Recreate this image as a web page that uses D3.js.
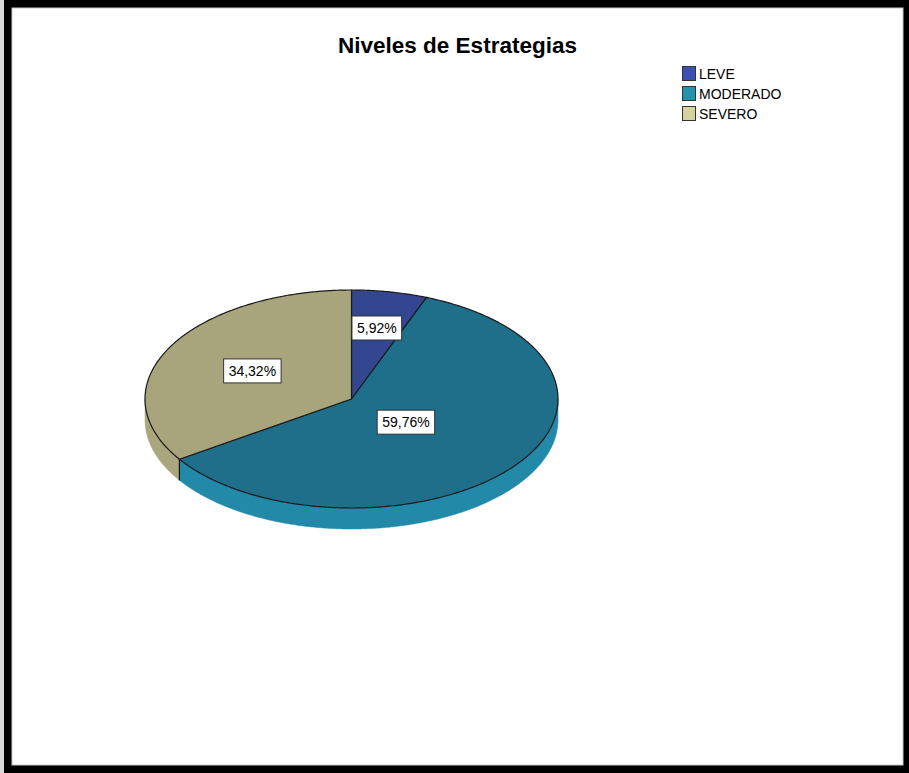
<!DOCTYPE html>
<html><head><meta charset="utf-8">
<script src="https://cdn.jsdelivr.net/npm/d3@7"></script>
<style>html,body{margin:0;padding:0;background:#fff;}svg{display:block;}</style>
</head><body>
<svg id="chart" width="909" height="773"></svg>
<script>
const title = "Niveles de Estrategias";
const categories = ["LEVE", "MODERADO", "SEVERO"];
const values = [5.92, 59.76, 34.32];
const labels = ["5,92%", "59,76%", "34,32%"];
const topColors = ["#34468f", "#1f6e8a", "#a8a47c"];
const sideColors = ["#3b50a8", "#2389a8", "#aaa67e"];
const legendColors = ["#3c4fb2", "#2393ae", "#d5d29c"];

const W = 909, H = 773;
const svg = d3.select("#chart");
const font = "Arial, 'Liberation Sans', Helvetica, sans-serif";

// frame
svg.append("rect").attr("x",0).attr("y",0).attr("width",W).attr("height",H).attr("fill","#000");
svg.append("rect").attr("x",0).attr("y",0).attr("width",4).attr("height",H).attr("fill","#d8d8d8");
svg.append("rect").attr("x",12).attr("y",8).attr("width",891).attr("height",757).attr("fill","#fff").attr("stroke","#c8c8c8").attr("stroke-width",1);

svg.append("text").attr("x",457.5).attr("y",53).attr("text-anchor","middle")
  .attr("font-family",font).attr("font-weight","bold").attr("font-size",22.5).attr("fill","#000").text(title);

// pie geometry
const cx = 351.5, cy = 399, rx = 206.5, ry = 109, depth = 21;
const sx = d3.scaleLinear().domain([-1,1]).range([cx-rx, cx+rx]);
const sy = d3.scaleLinear().domain([-1,1]).range([cy-ry, cy+ry]);
const P = (a, f=1, dz=0) => [sx(f*Math.sin(a)), sy(-f*Math.cos(a)) + dz];

const pie = d3.pie().sort(null).value(d => d)(values);
const line = d3.line();
const g = svg.append("g");

function arcPts(a0, a1, dz) {
  const n = Math.max(2, Math.ceil(Math.abs(a1-a0)/0.01));
  return d3.range(n+1).map(i => P(a0 + (a1-a0)*i/n, 1, dz));
}

// side walls (front half: angles pi/2..3pi/2)
pie.forEach((s, i) => {
  const a0 = Math.max(s.startAngle, Math.PI/2), a1 = Math.min(s.endAngle, 3*Math.PI/2);
  if (a1 <= a0) return;
  const pts = arcPts(a0, a1, 0).concat(arcPts(a1, a0, depth));
  g.append("path").attr("d", line(pts) + "Z").attr("fill", sideColors[i]).attr("stroke", sideColors[i]).attr("stroke-width", 0.5);
  [s.startAngle, s.endAngle].forEach(a => {
    if (a > Math.PI/2 + 0.01 && a < 3*Math.PI/2 - 0.01) {
      g.append("path").attr("d", line([P(a,1,0), P(a,1,depth)])).attr("stroke","#111").attr("stroke-width",1.2).attr("fill","none");
    }
  });
});

// top slices
pie.forEach((s, i) => {
  const pts = [P(0,0)].concat(arcPts(s.startAngle, s.endAngle, 0));
  g.append("path").attr("d", line(pts) + "Z").attr("fill", topColors[i])
    .attr("stroke", "#1a1a1a").attr("stroke-width", 1.2).attr("stroke-linejoin","round");
});

// labels at sector centroids
pie.forEach((s, i) => {
  const half = (s.endAngle - s.startAngle) / 2;
  const f = 2*Math.sin(half)/(3*half);
  const mid = (s.startAngle + s.endAngle)/2;
  const [x, y] = P(mid, f);
  const t = svg.append("text").attr("x", x).attr("y", y + 5).attr("text-anchor","middle")
    .attr("font-family", font).attr("font-size", 14).attr("fill","#000").text(labels[i]);
  const bb = t.node().getBBox();
  svg.insert("rect", () => t.node()).attr("x", bb.x - 5).attr("y", y - 12).attr("width", bb.width + 10).attr("height", 24)
    .attr("fill","#fff").attr("stroke","#333").attr("stroke-width",1);
});

// legend
const lg = svg.append("g");
categories.forEach((c, i) => {
  const y = 66 + i*20;
  lg.append("rect").attr("x", 682.5).attr("y", y + 0.5).attr("width", 13).attr("height", 14)
    .attr("fill", legendColors[i]).attr("stroke", "#333").attr("stroke-width", 1);
  lg.append("text").attr("x", 699).attr("y", y + 13).attr("font-family", font).attr("font-size", 14)
    .attr("fill","#000").text(c);
});
</script>
</body></html>
